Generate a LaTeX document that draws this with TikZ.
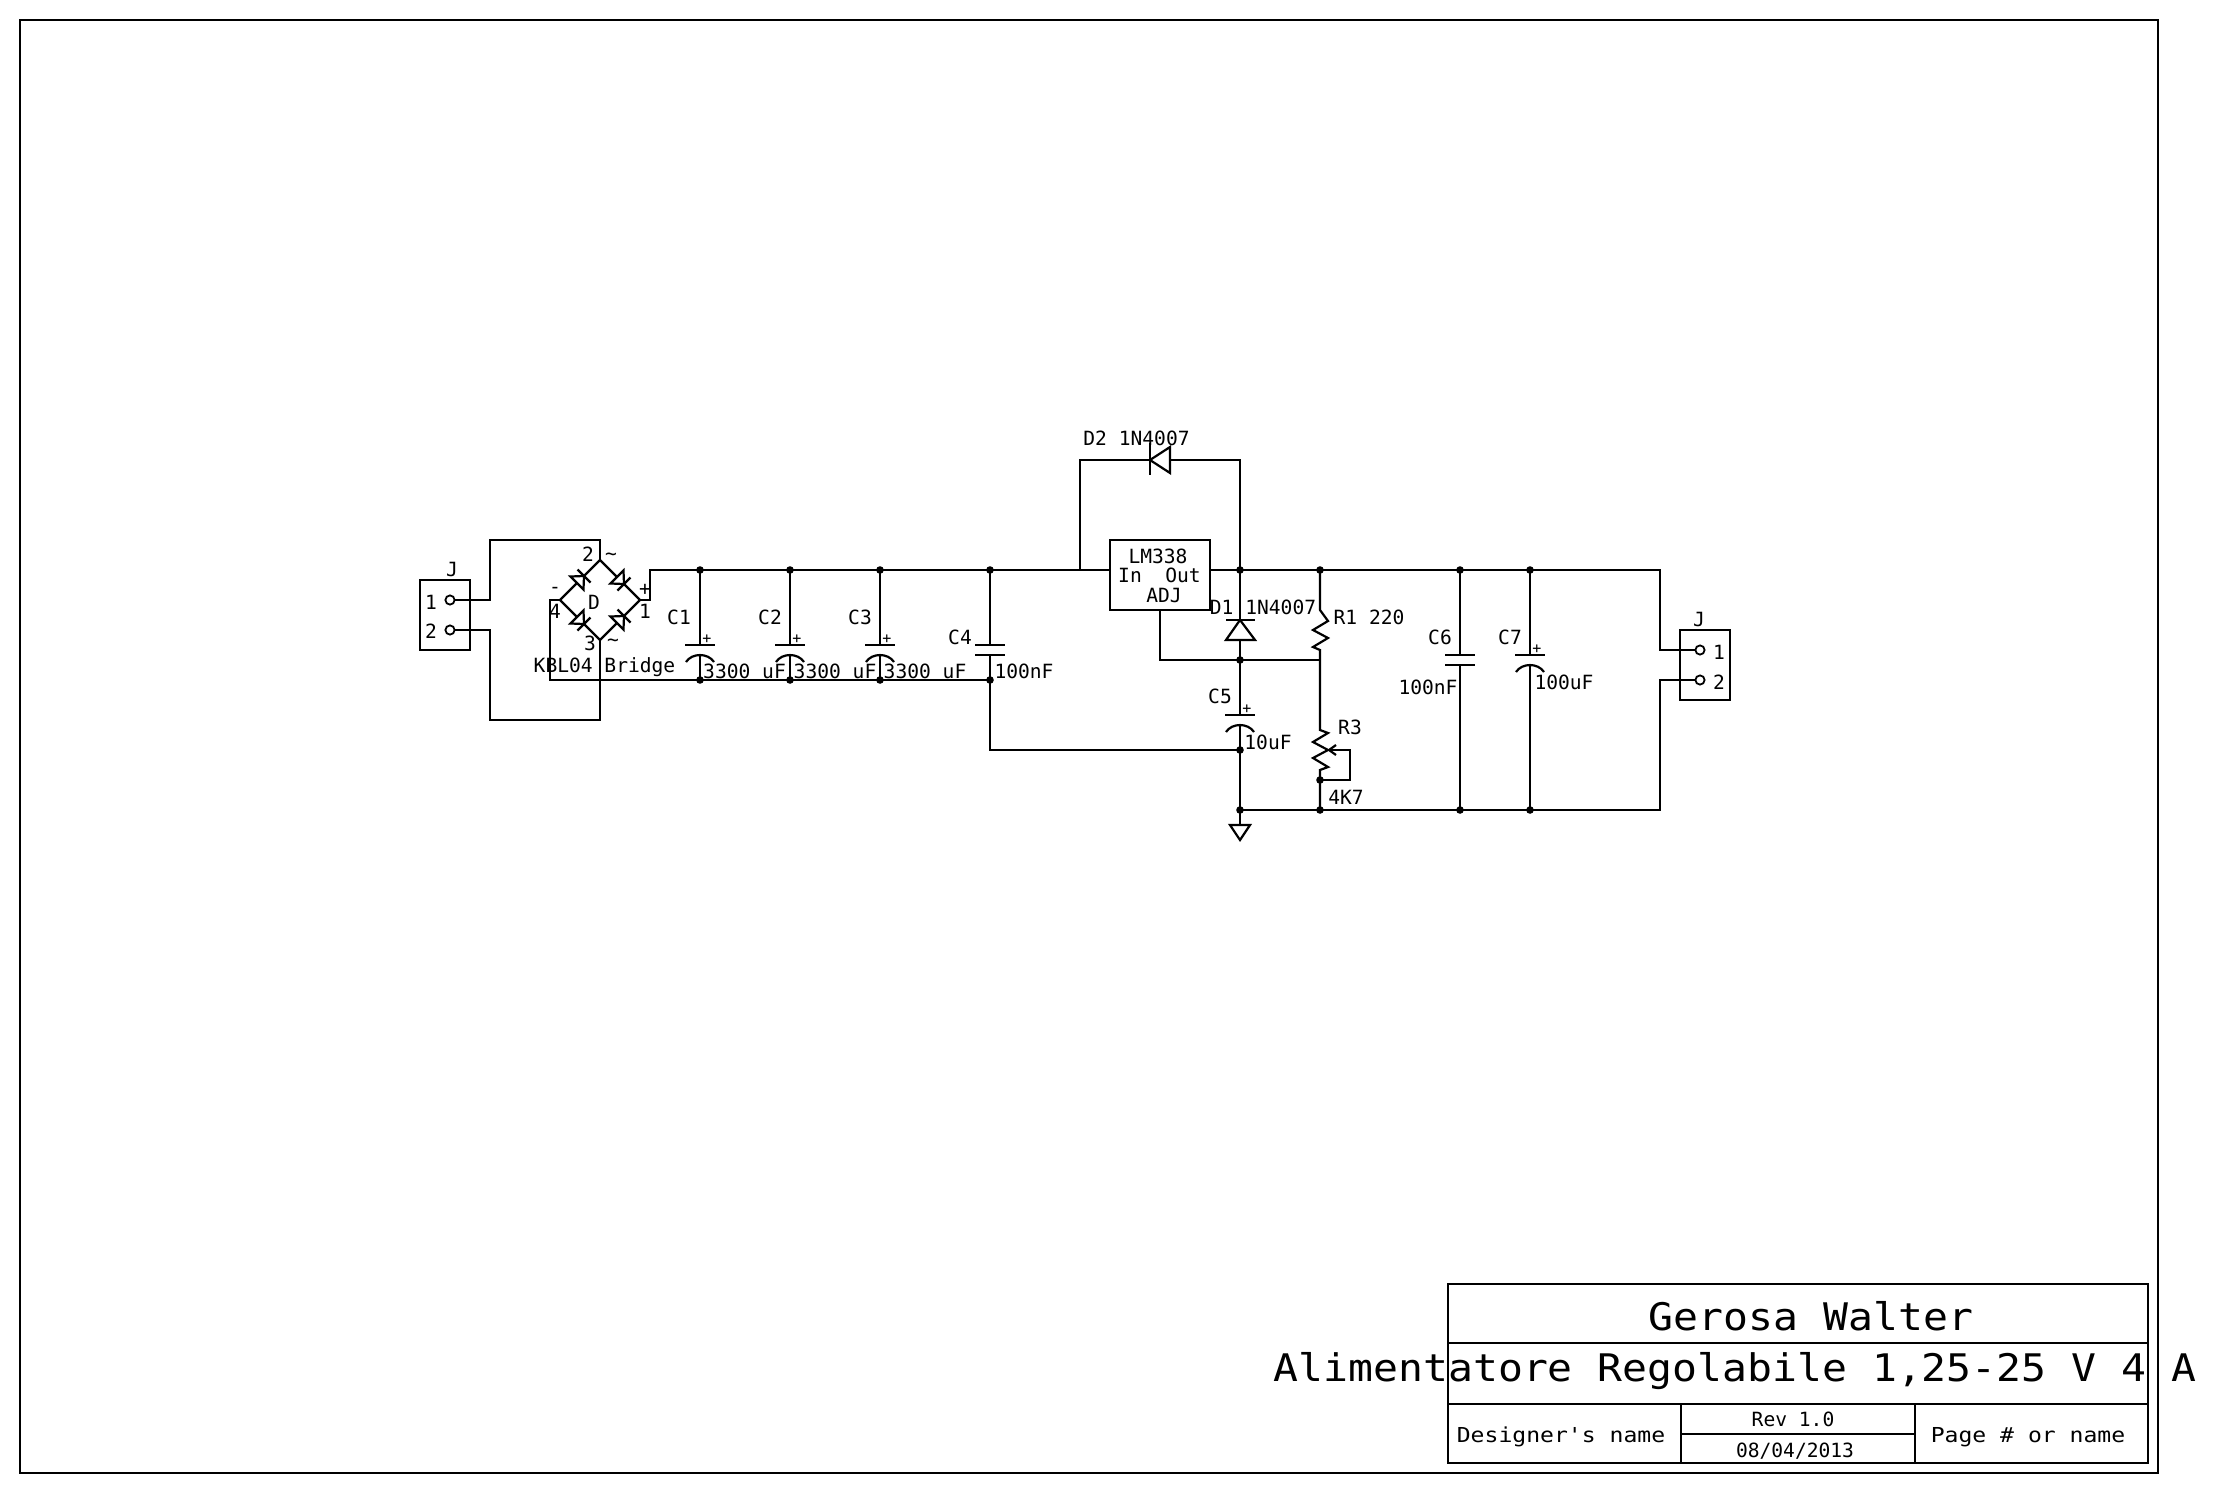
\documentclass[tikz,border=0pt]{standalone}
\usepackage{fontspec}
\newfontfamily\vfs{DejaVu Sans Mono}[FakeStretch=1.0]
\newfontfamily\vfd{DejaVu Sans Mono}[FakeStretch=1.12]
\newfontfamily\vft{DejaVu Sans Mono}[FakeStretch=1.09]
\tikzset{
  wire/.style={draw=black,line width=1.1pt,line join=miter},
  junction/.style={circle,fill=black,draw=none,inner sep=0pt,minimum size=3.8pt},
  pinhole/.style={circle,fill=white,draw=black,line width=0.9pt,inner sep=0pt,minimum size=4.6pt},
  lbl/.style={inner sep=0pt,text=black,font=\vfs\fontsize{9.8}{9.8}\selectfont},
  lbld/.style={inner sep=0pt,text=black,font=\vfd\fontsize{10.3}{10}\selectfont},
  lblt/.style={inner sep=0pt,text=black,font=\vft\fontsize{19}{19}\selectfont},
  pics/polcap/.style={code={
    \draw[wire] (-15,0) -- (15,0);
    \draw[wire] (-14,17) .. controls (-8,7.7) and (8,7.7) .. (14,17);
    \node[lbl,font=\vfs\fontsize{7.5}{7.5}\selectfont] at (7,-6) {+};
  }},
  pics/plaincap/.style={code={
    \draw[wire] (-15,0) -- (15,0);
    \draw[wire] (-15,10) -- (15,10);
  }}
}
\begin{document}
\begin{tikzpicture}[x=0.5pt,y=-0.5pt]
\useasboundingbox (0,0) rectangle (2224,1494);
% sheet frame and title block
\draw[wire] (20,20) rectangle (2158,1473);
\draw[wire] (1448,1284) rectangle (2148,1463);
\draw[wire] (1448,1343) -- (2148,1343);
\draw[wire] (1448,1404) -- (2148,1404);
\draw[wire] (1681,1404) -- (1681,1463);
\draw[wire] (1915,1404) -- (1915,1463);
\draw[wire] (1681,1434) -- (1915,1434);
\node[lblt] (tname) at (1811,1316) {Gerosa Walter};
\node[lblt] (ttitle) at (1735,1371) {Alimentatore Regolabile 1,25-25 V 4 A};
\node[lbld] (tdes) at (1561,1437) {Designer's name};
\node[lbl] (trev) at (1793,1419) {Rev 1.0};
\node[lbl] (tdate) at (1795,1451) {08/04/2013};
\node[lbld] (tpage) at (2028,1437) {Page \# or name};

% named points
\foreach \n/\x/\y in {
  jla/450/600,jlb/450/630,jlaa/490/600,jlab/490/540,jlac/600/540,
  jlba/490/630,jlbb/490/720,jlbc/600/720,
  bt/600/560,bb/600/640,bl/560/600,br/640/600,
  brr/650/600,rt/650/570,bll/550/600,bld/550/680,
  n1/700/570,n2/790/570,n3/880/570,n4/990/570,
  m1/700/680,m2/790/680,m3/880/680,m4/990/680,
  c1t/700/645,c2t/790/645,c3t/880/645,c4t/990/645,
  c1b/700/655,c2b/790/655,c3b/880/655,c4b/990/655,
  c4d/990/750,c5j/1240/750,
  d2l/1080/570,d2a/1080/460,d2k/1150/460,d2e/1170/460,d2b/1240/460,
  regi/1110/570,rego/1210/570,adj/1160/610,adjb/1160/660,
  o1/1240/570,o2/1320/570,o3/1460/570,o4/1530/570,otr/1660/570,
  d1k/1240/620,d1a/1240/640,a1/1240/660,a2/1320/660,
  c5t/1240/715,c5b/1240/725,g1/1240/810,g2/1320/810,g3/1460/810,g4/1530/810,gtr/1660/810,
  gt/1240/825,
  r1t/1320/610,r1b/1320/650,r3t/1320/730,r3b/1320/770,r3n/1320/780,
  wa/1329/750,wb/1350/750,wc/1350/780,
  c6t/1460/655,c6b/1460/665,c7t/1530/655,c7b/1530/665,
  jra/1700/650,jrb/1700/680,jrav/1660/650,jrbv/1660/680}
  {\coordinate (\n) at (\x,\y);}

% input connector
\draw[wire] (420,580) rectangle (470,650);
\node[lbl] (jl) at (452,569) {J};
\node[lbl] (jl1) at (431,602) {1};
\node[lbl] (jl2) at (431,631) {2};
\draw[wire] (jla) -- (jlaa) -- (jlab) -- (jlac) -- (bt);
\draw[wire] (jlb) -- (jlba) -- (jlbb) -- (jlbc) -- (bb);
\node[pinhole] at (jla) {};
\node[pinhole] at (jlb) {};

% bridge: each diode runs from (sx,sy) along (dx,dy)
\foreach \sx/\sy/\dx/\dy in {560/600/1/-1,600/560/1/1,560/600/1/1,600/640/1/-1}{
  \draw[wire] (\sx,\sy) -- (\sx+17*\dx,\sy+17*\dy);
  \draw[wire] (\sx+24*\dx,\sy+24*\dy) -- (\sx+40*\dx,\sy+40*\dy);
  \draw[wire] (\sx+24*\dx-6.5*\dy,\sy+24*\dy+6.5*\dx) -- (\sx+24*\dx+6.5*\dy,\sy+24*\dy-6.5*\dx);
  \draw[wire] (\sx+24*\dx,\sy+24*\dy) -- (\sx+17*\dx-6.5*\dy,\sy+17*\dy+6.5*\dx) -- (\sx+17*\dx+6.5*\dy,\sy+17*\dy-6.5*\dx) -- cycle;
}
\node[lbl] (b2) at (588,554) {2};
\node[lbl] (bt1) at (611,557) {\char`\~};
\node[lbl] (bp) at (645,590) {+};
\node[lbl] (b1) at (645,611) {1};
\node[lbl] (bm) at (555,590) {-};
\node[lbl] (b4) at (555,611) {4};
\node[lbl] (bd) at (594,602) {D};
\node[lbl] (b3) at (590,643) {3};
\node[lbl] (bt2) at (613,643) {\char`\~};
\node[lbl] (bk) at (604.5,667) {KBL04 Bridge};

% rails
\draw[wire] (br) -- (brr) -- (rt) -- (regi);
\draw[wire] (bl) -- (bll) -- (bld) -- (m4);
\draw[wire] (rego) -- (otr) -- (jrav) -- (jra);
\draw[wire] (jrb) -- (jrbv) -- (gtr) -- (g1);

% capacitors
\draw[wire] (n1) -- (c1t);
\draw[wire] (n2) -- (c2t);
\draw[wire] (n3) -- (c3t);
\draw[wire] (c1b) -- (m1);
\draw[wire] (c2b) -- (m2);
\draw[wire] (c3b) -- (m3);
\pic at (c1t) {polcap};
\pic at (c2t) {polcap};
\pic at (c3t) {polcap};
\draw[wire] (n4) -- (c4t);
\draw[wire] (c4b) -- (m4) -- (c4d) -- (c5j);
\pic at (c4t) {plaincap};
\node[lbl] (c1l) at (679,617) {C1};
\node[lbl] (c2l) at (770,617) {C2};
\node[lbl] (c3l) at (860,617) {C3};
\node[lbl] (c4l) at (960,637) {C4};
\node[lbl] (c1v) at (744.5,671) {3300 uF};
\node[lbl] (c2v) at (835,671) {3300 uF};
\node[lbl] (c3v) at (925,671) {3300 uF};
\node[lbl] (c4v) at (1024,671) {100nF};

% regulator
\draw[wire] (1110,540) rectangle (1210,610);
\node[lbl] (lm) at (1158,556) {LM338};
\node[lbl] (lmi) at (1130,575) {In};
\node[lbl] (lmo) at (1183,575) {Out};
\node[lbl] (lma) at (1164,595) {ADJ};
\draw[wire] (adj) -- (adjb) -- (a2);

% D2
\draw[wire] (d2l) -- (d2a) -- (d2k);
\draw[wire] (d2e) -- (d2b) -- (d1k);
\draw[wire] (1150,443) -- (1150,475);
\draw[wire] (d2k) -- (1170,447) -- (1170,473) -- cycle;
\node[lbl] (d2t) at (1136.5,438) {D2 1N4007};

% D1
\draw[wire] (1226,620) -- (1255,620);
\draw[wire] (d1k) -- (1226,640) -- (1255,640) -- cycle;
\draw[wire] (d1a) -- (c5t);
\node[lbl] (d1t) at (1263,607) {D1 1N4007};

% C5 and ground
\pic at (c5t) {polcap};
\draw[wire] (c5b) -- (gt);
\draw[wire] (gt) ++(-10,0) -- ++(20,0) -- (1240,840) -- cycle;
\node[lbl] (c5l) at (1220,696) {C5};
\node[lbl] (c5v) at (1268,742) {10uF};

% R1 and R3
\draw[wire] (o2) -- (r1t) -- (1328,621) -- (1313,630) -- (1328,638) -- (1313,647) -- (r1b) -- (r3t)
  -- (1328,733) -- (1313,742) -- (1328,750) -- (1313,758) -- (1328,767) -- (r3b) -- (g2);
\draw[wire] (r3n) -- (wc) -- (wb) -- (wa);
\draw[wire] (1336,745) -- (wa) -- (1336,755);
\node[lbl] (r1l) at (1369,617) {R1 220};
\node[lbl] (r3l) at (1350,727) {R3};
\node[lbl] (r3v) at (1346,797) {4K7};

% C6 and C7
\draw[wire] (o3) -- (c6t);
\draw[wire] (c6b) -- (g3);
\pic at (c6t) {plaincap};
\draw[wire] (o4) -- (c7t);
\draw[wire] (c7b) -- (g4);
\pic at (c7t) {polcap};
\node[lbl] (c6l) at (1440,637) {C6};
\node[lbl] (c6v) at (1428,687) {100nF};
\node[lbl] (c7l) at (1510,637) {C7};
\node[lbl] (c7v) at (1564,682) {100uF};

% output connector
\draw[wire] (1680,630) rectangle (1730,700);
\node[lbl] (jr) at (1699,619) {J};
\node[lbl] (jr1) at (1719,652) {1};
\node[lbl] (jr2) at (1719,682) {2};
\node[pinhole] at (jra) {};
\node[pinhole] at (jrb) {};

% junctions
\foreach \p in {n1,n2,n3,n4,m1,m2,m3,m4,o1,o2,o3,o4,a1,c5j,g1,g2,g3,g4,r3n}
  {\node[junction] at (\p) {};}
\end{tikzpicture}
\end{document}
